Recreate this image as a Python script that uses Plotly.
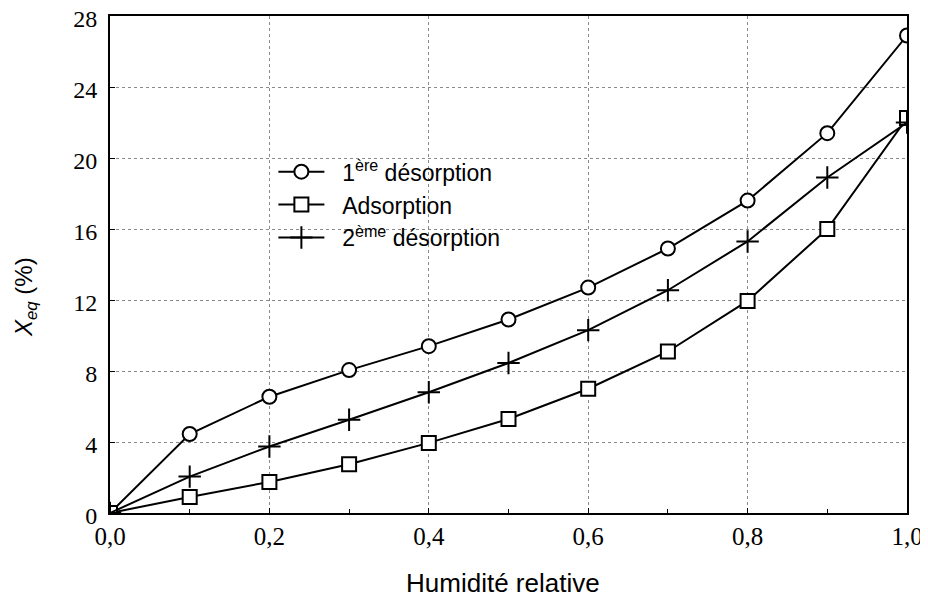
import plotly.graph_objects as go

humidity = [0.0, 0.1, 0.2, 0.3, 0.4, 0.5, 0.6, 0.7, 0.8, 0.9, 1.0]
desorption1 = [0.0, 4.45, 6.55, 8.05, 9.4, 10.9, 12.7, 14.9, 17.6, 21.4, 26.9]
adsorption = [0.0, 0.9, 1.75, 2.75, 3.95, 5.3, 7.0, 9.1, 11.95, 16.0, 22.25]
desorption2 = [0.0, 2.05, 3.75, 5.25, 6.8, 8.45, 10.3, 12.55, 15.3, 18.9, 22.0]

x_tickvals = [0.0, 0.2, 0.4, 0.6, 0.8, 1.0]
x_ticktext = ["0,0", "0,2", "0,4", "0,6", "0,8", "1,0"]
y_tickvals = [0, 4, 8, 12, 16, 20, 24, 28]
y_ticktext = ["0", "4", "8", "12", "16", "20", "24", "28"]

names = ["1<sup>ère</sup> désorption", "Adsorption", "2<sup>ème</sup> désorption"]
x_title = "Humidité relative"
y_title = "<i>X</i><sub><i>eq</i></sub> (%)"

SANS = "Liberation Sans, Arial, sans-serif"
SERIF = "Liberation Serif, Times New Roman, serif"
PAD = "\u00a0\u00a0"

fig = go.Figure()
fig.add_trace(go.Scatter(
    x=humidity, y=desorption1, name=PAD + names[0], mode="lines+markers",
    line=dict(color="black", width=2),
    marker=dict(symbol="circle", size=14, color="white", line=dict(color="black", width=2)),
))
fig.add_trace(go.Scatter(
    x=humidity, y=adsorption, name=PAD + names[1], mode="lines+markers",
    line=dict(color="black", width=2),
    marker=dict(symbol="square", size=14, color="white", line=dict(color="black", width=2)),
))
fig.add_trace(go.Scatter(
    x=humidity, y=desorption2, name=PAD + names[2], mode="lines+markers",
    line=dict(color="black", width=2),
    marker=dict(symbol="cross-thin", size=16, color="black", line=dict(color="black", width=2)),
))

fig.add_shape(type="rect", xref="paper", yref="paper",
              x0=0.272, x1=0.55, y0=0.493, y1=0.73,
              fillcolor="white", line=dict(width=0), layer="between")

fig.add_annotation(text=x_title, xref="paper", yref="paper", x=0.493, y=-0.141,
                   xanchor="center", yanchor="middle", showarrow=False,
                   font=dict(family=SANS, size=26, color="black"))
fig.add_annotation(text=y_title, xref="paper", yref="paper", x=-0.1066, y=0.4346,
                   xanchor="center", yanchor="middle", showarrow=False, textangle=-90,
                   font=dict(family=SANS, size=24, color="black"))

fig.update_layout(
    width=920, height=589,
    margin=dict(l=102, r=21, t=8, b=84, autoexpand=False),
    paper_bgcolor="white", plot_bgcolor="white",
    font=dict(family=SANS, color="black"),
    showlegend=True,
    legend=dict(x=0.205, y=0.73, xanchor="left", yanchor="top",
                bgcolor="rgba(0,0,0,0)", font=dict(size=23, family=SANS, color="black"),
                itemwidth=46),
    xaxis=dict(
        range=[0, 1.0], tickvals=x_tickvals, ticktext=x_ticktext,
        tickfont=dict(family=SERIF, size=25, color="black"),
        showline=True, linecolor="black", linewidth=2, mirror=True,
        ticks="inside", ticklen=5, tickcolor="black",
        minor=dict(dtick=0.1, ticks="inside", ticklen=4, tickcolor="black", showgrid=False),
        showgrid=True, gridcolor="#8a8a8a", griddash="dot", gridwidth=1,
        zeroline=False, automargin=False, ticklabeloverflow="allow",
    ),
    yaxis=dict(
        range=[0, 28], tickvals=y_tickvals, ticktext=y_ticktext,
        tickfont=dict(family=SERIF, size=24, color="black"),
        showline=True, linecolor="black", linewidth=2, mirror=True,
        ticks="inside", ticklen=5, tickcolor="black",
        showgrid=True, gridcolor="#8a8a8a", griddash="dot", gridwidth=1,
        zeroline=False, automargin=False, ticklabelstandoff=6, ticklabeloverflow="allow",
        ticklabelshift=3,
    ),
)

fig.write_html("out.html")
